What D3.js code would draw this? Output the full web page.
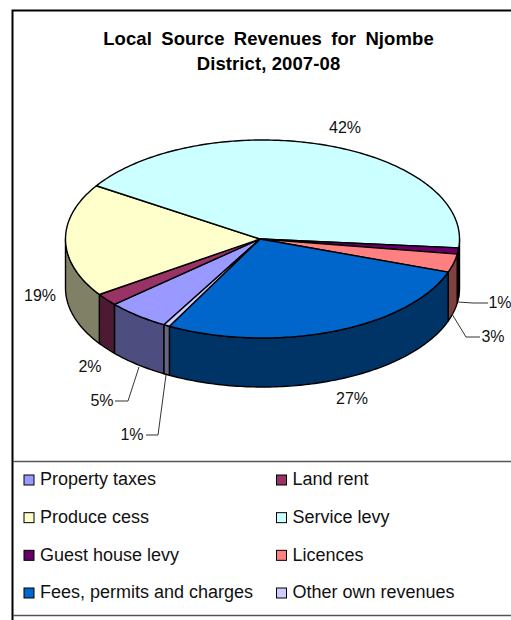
<!DOCTYPE html>
<html>
<head>
<meta charset="utf-8">
<script src="https://cdn.jsdelivr.net/npm/d3@7"></script>
<style>
  html, body { margin: 0; padding: 0; background: #fff; }
  svg { display: block; font-family: "Liberation Sans", Arial, sans-serif; }
</style>
</head>
<body>
<svg id="chart" width="511" height="620"></svg>
<script>
const categories = ["Property taxes", "Land rent", "Produce cess", "Service levy",
  "Guest house levy", "Licences", "Fees, permits and charges", "Other own revenues"];
// labels show them rounded
const shares = [5.2, 2, 18.5, 42.4, 1, 3, 27.4, 0.5];
const topColors = ["#9999FF", "#993366", "#FFFFCC", "#CCFFFF", "#660066", "#FF8080", "#0066CC", "#CCCCFF"];
const sideColors = ["#4D4D80", "#4D1A33", "#808066", "#668080", "#330033", "#804040", "#003366", "#666680"];
const titleLines = ["Local Source Revenues for Njombe", "District, 2007-08"];

// label anchor spots, same order as categories
const labelSpots = [[102, 400], [90, 366], [40, 295], [345, 127], [500, 302], [493, 336], [352, 398], [132, 434]];
const leaders = [
  [[139, 367], [128, 401], [115, 401]],
  [[166, 375], [158, 435], [146, 435]],
  [[452, 314], [466, 337], [480, 337]],
  [[458, 302], [473, 303], [488, 303]]
];

const svg = d3.select("#chart");
const cx = 262.5, cy = 239, rx = 197, ry = 99, depth = 49;
const apex = [260, 239];
const startDeg = 210;

const x = d3.scaleLinear().domain([-1, 1]).range([cx - rx, cx + rx]);
const y = d3.scaleLinear().domain([-1, 1]).range([cy - ry, cy + ry]);
const line = d3.line();

const pie = d3.pie().sort(null)
  .startAngle(startDeg * Math.PI / 180)
  .endAngle((startDeg + 360) * Math.PI / 180);
const slices = pie(shares);

const rimPoint = a => [x(Math.sin(a)), y(-Math.cos(a))];
const sweep = (a0, a1) => {
  const n = Math.max(2, Math.ceil((a1 - a0) * 60));
  return d3.range(n + 1).map(i => rimPoint(a0 + (a1 - a0) * i / n));
};

// outer frame
svg.append("path")
  .attr("d", "M511,10.5H12.5V620")
  .attr("fill", "none")
  .attr("stroke", "#000")
  .attr("stroke-width", 2);

svg.append("g").attr("class", "title")
  .selectAll("text")
  .data(titleLines)
  .join("text")
  .attr("x", 268.5)
  .attr("y", (d, i) => 45 + i * 25)
  .attr("text-anchor", "middle")
  .attr("font-size", 18.5)
  .attr("font-weight", "bold")
  .attr("letter-spacing", 0.1)
  .attr("word-spacing", (d, i) => i === 0 ? 4 : 0)
  .attr("fill", "#000")
  .text(d => d);

// front walls, only the part of a slice on the lower half of the ellipse
const frontStart = Math.PI / 2, frontEnd = 3 * Math.PI / 2;
const walls = svg.append("g").attr("class", "walls");
slices.forEach(s => {
  [0, 2 * Math.PI].forEach(turn => {
    const a0 = Math.max(s.startAngle, frontStart + turn);
    const a1 = Math.min(s.endAngle, frontEnd + turn);
    if (a1 <= a0) return;
    const rim = sweep(a0, a1);
    const lower = rim.slice().reverse().map(p => [p[0], p[1] + depth]);
    walls.append("path")
      .attr("d", line(rim.concat(lower)) + "Z")
      .attr("fill", sideColors[s.index])
      .attr("stroke", "#000")
      .attr("stroke-width", 1.4)
      .attr("stroke-linejoin", "round");
  });
});

svg.append("g").attr("class", "tops")
  .selectAll("path")
  .data(slices)
  .join("path")
  .attr("d", s => line([apex].concat(sweep(s.startAngle, s.endAngle))) + "Z")
  .attr("fill", s => topColors[s.index])
  .attr("stroke", "#000")
  .attr("stroke-width", 1.4)
  .attr("stroke-linejoin", "round");

svg.append("g").attr("class", "leaders")
  .selectAll("path")
  .data(leaders)
  .join("path")
  .attr("d", d => line(d))
  .attr("fill", "none")
  .attr("stroke", "#333")
  .attr("stroke-width", 1);

svg.append("g").attr("class", "labels")
  .selectAll("text")
  .data(shares)
  .join("text")
  .attr("x", (d, i) => labelSpots[i][0])
  .attr("y", (d, i) => labelSpots[i][1])
  .attr("dy", "0.35em")
  .attr("text-anchor", "middle")
  .attr("font-size", 16)
  .attr("fill", "#111")
  .text(d => Math.round(d) + "%");

// legend
const legend = svg.append("g").attr("class", "legend");
legend.append("path")
  .attr("d", "M13,461.5H511M13,615.5H511")
  .attr("stroke", "#555")
  .attr("stroke-width", 1.5);

const legendX = d3.scalePoint().domain([0, 1]).range([24, 276.5]);
const legendY = d3.scalePoint().domain([0, 1, 2, 3]).range([480, 593]);
const items = legend.selectAll("g")
  .data(categories)
  .join("g")
  .attr("transform", (d, i) => `translate(${legendX(i % 2)},${legendY(Math.floor(i / 2))})`);
items.append("rect")
  .attr("y", -5)
  .attr("width", 10)
  .attr("height", 10)
  .attr("fill", (d, i) => topColors[i])
  .attr("stroke", "#000")
  .attr("stroke-width", 1);
items.append("text")
  .attr("x", 16)
  .attr("y", -1)
  .attr("dy", "0.35em")
  .attr("font-size", 18)
  .attr("fill", "#111")
  .text(d => d);
</script>
</body>
</html>
